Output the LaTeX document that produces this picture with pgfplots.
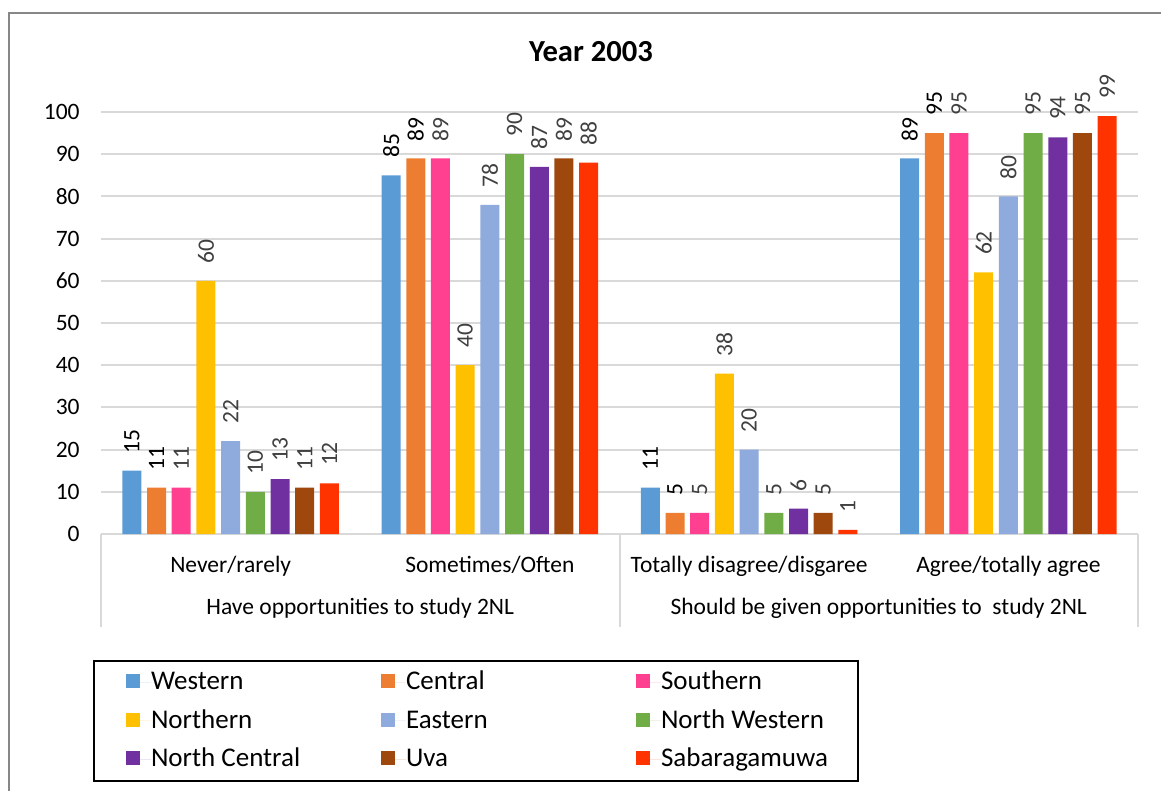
\documentclass[border=0pt]{standalone}
\usepackage{fontspec}
\setmainfont{Carlito}
\usepackage{pgfplots}
\pgfplotsset{compat=1.18}

\definecolor{cWestern}{HTML}{5B9BD5}
\definecolor{cCentral}{HTML}{ED7D31}
\definecolor{cSouthern}{HTML}{FF3F8F}
\definecolor{cNorthern}{HTML}{FFC000}
\definecolor{cEastern}{HTML}{8FAADC}
\definecolor{cNorthWestern}{HTML}{70AD47}
\definecolor{cNorthCentral}{HTML}{7030A0}
\definecolor{cUva}{HTML}{9E480E}
\definecolor{cSabaragamuwa}{HTML}{FF3300}
\definecolor{gridgray}{HTML}{D9D9D9}
\definecolor{framegray}{HTML}{878787}
\definecolor{labelgray}{HTML}{404040}

% fixed-width legend entries keep the three columns evenly spaced
\newcommand{\legtext}[1]{\makebox[115pt][l]{#1}}
\newcommand{\legtextlast}[1]{\makebox[82.5pt][l]{#1}}

\begin{document}
\begin{tikzpicture}
\useasboundingbox (0,0) rectangle (580.5pt,-395.5pt);
\draw[framegray, line width=1pt] (4.5pt,-396pt) -- (4.5pt,-6.5pt) -- (581pt,-6.5pt);
\node[anchor=base, font=\fontsize{15.3}{18}\selectfont\bfseries] at (295.5pt,-31pt) {Year 2003};
\begin{axis}[
  at={(50.5pt,-267pt)}, anchor=south west,
  scale only axis, width=518.5pt, height=211pt,
  ymin=0, ymax=100, ytick={0,10,...,100},
  xmin=-0.5, xmax=3.5, xtick={0,1,2,3},
  xticklabels={Never/rarely, Sometimes/Often, Totally disagree/disgaree, Agree/totally agree},
  ybar=2.85pt, bar width=9.5pt,
  axis line style={draw=none},
  major tick length=0pt,
  ymajorgrids, grid style={gridgray, line width=1pt},
  clip=false,
  /pgf/number format/assume math mode=true,
  ticklabel style={font=\fontsize{11.75}{14}\selectfont, text=black},
  yticklabel style={anchor=east, inner sep=0pt, xshift=-10.5pt},
  xticklabel style={anchor=base, inner sep=0pt, yshift=-19pt},
  nodes near coords,
  every node near coord/.append style={rotate=90, anchor=west, inner xsep=8.5pt, inner ysep=0pt,
    font=\fontsize{11.75}{14}\selectfont, text=labelgray},
  legend columns=3,
  legend style={at={(-0.0077,-0.2986)}, anchor=north west, draw=black, line width=1pt,
    inner xsep=16pt, inner ysep=1pt, column sep=0pt, row sep=0pt,
    font=\fontsize{13.5}{16}\selectfont,
    nodes={inner sep=0pt, text height=13.475pt, text depth=5.775pt}},
  legend image code/.code={\path (0pt,0pt) -- (12.5pt,0pt); \fill[#1, draw=none] (0pt,-3pt) rectangle (7pt,4pt);},
]
\addplot[fill=cWestern, draw=none, nodes near coords style={text=black}] coordinates {(0,15) (1,85) (2,11) (3,89)};
\addlegendentry{\legtext{Western}}
\addplot[fill=cCentral, draw=none, nodes near coords style={text=black}] coordinates {(0,11) (1,89) (2,5) (3,95)};
\addlegendentry{\legtext{Central}}
\addplot[fill=cSouthern, draw=none] coordinates {(0,11) (1,89) (2,5) (3,95)};
\addlegendentry{\legtextlast{Southern}}
\addplot[fill=cNorthern, draw=none] coordinates {(0,60) (1,40) (2,38) (3,62)};
\addlegendentry{\legtext{Northern}}
\addplot[fill=cEastern, draw=none] coordinates {(0,22) (1,78) (2,20) (3,80)};
\addlegendentry{\legtext{Eastern}}
\addplot[fill=cNorthWestern, draw=none] coordinates {(0,10) (1,90) (2,5) (3,95)};
\addlegendentry{\legtextlast{North Western}}
\addplot[fill=cNorthCentral, draw=none] coordinates {(0,13) (1,87) (2,6) (3,94)};
\addlegendentry{\legtext{North Central}}
\addplot[fill=cUva, draw=none] coordinates {(0,11) (1,89) (2,5) (3,95)};
\addlegendentry{\legtext{Uva}}
\addplot[fill=cSabaragamuwa, draw=none] coordinates {(0,12) (1,88) (2,1) (3,99)};
\addlegendentry{\legtextlast{Sabaragamuwa}}

% multi-level category axis: group separators and group names
\draw[gridgray, line width=1pt] (axis cs:-0.5,0) -- ++(0pt,-46.5pt);
\draw[gridgray, line width=1pt] (axis cs:1.5,0) -- ++(0pt,-46.5pt);
\draw[gridgray, line width=1pt] (axis cs:3.5,0) -- ++(0pt,-46.5pt);
\node[anchor=base, inner sep=0pt, yshift=-40pt, font=\fontsize{11.75}{14}\selectfont] at (axis cs:0.5,0) {Have opportunities to study 2NL};
\node[anchor=base, inner sep=0pt, yshift=-40pt, font=\fontsize{11.75}{14}\selectfont] at (axis cs:2.5,0) {Should be given opportunities to\ \ study 2NL};
\end{axis}
\end{tikzpicture}
\end{document}
